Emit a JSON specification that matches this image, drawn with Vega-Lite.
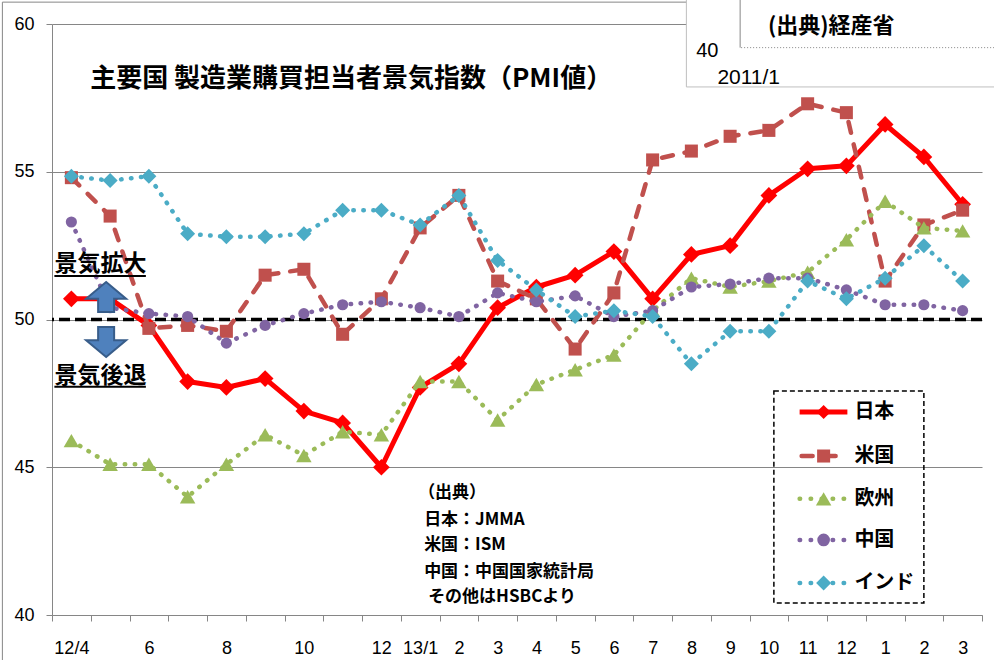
{
  "$schema": "https://vega.github.io/schema/vega-lite/v6.json",
  "width": 930,
  "height": 591,
  "autosize": {"type": "none"},
  "padding": {"left": 52, "top": 24, "right": 12, "bottom": 45},
  "background": "white",
  "config": {"view": {"stroke": null}},
  "datasets": {
    "pmi": [
      {"m":"12/4","c":"日本","v":50.7},{"m":"12/5","c":"日本","v":50.7},{"m":"12/6","c":"日本","v":49.8},{"m":"12/7","c":"日本","v":47.9},{"m":"12/8","c":"日本","v":47.7},{"m":"12/9","c":"日本","v":48.0},{"m":"12/10","c":"日本","v":46.9},{"m":"12/11","c":"日本","v":46.5},{"m":"12/12","c":"日本","v":45.0},{"m":"13/1","c":"日本","v":47.7},{"m":"13/2","c":"日本","v":48.5},{"m":"13/3","c":"日本","v":50.4},{"m":"13/4","c":"日本","v":51.1},{"m":"13/5","c":"日本","v":51.5},{"m":"13/6","c":"日本","v":52.3},{"m":"13/7","c":"日本","v":50.7},{"m":"13/8","c":"日本","v":52.2},{"m":"13/9","c":"日本","v":52.5},{"m":"13/10","c":"日本","v":54.2},{"m":"13/11","c":"日本","v":55.1},{"m":"13/12","c":"日本","v":55.2},{"m":"14/1","c":"日本","v":56.6},{"m":"14/2","c":"日本","v":55.5},{"m":"14/3","c":"日本","v":53.9},
      {"m":"12/4","c":"米国","v":54.8},{"m":"12/5","c":"米国","v":53.5},{"m":"12/6","c":"米国","v":49.7},{"m":"12/7","c":"米国","v":49.8},{"m":"12/8","c":"米国","v":49.6},{"m":"12/9","c":"米国","v":51.5},{"m":"12/10","c":"米国","v":51.7},{"m":"12/11","c":"米国","v":49.5},{"m":"12/12","c":"米国","v":50.7},{"m":"13/1","c":"米国","v":53.1},{"m":"13/2","c":"米国","v":54.2},{"m":"13/3","c":"米国","v":51.3},{"m":"13/4","c":"米国","v":50.7},{"m":"13/5","c":"米国","v":49.0},{"m":"13/6","c":"米国","v":50.9},{"m":"13/7","c":"米国","v":55.4},{"m":"13/8","c":"米国","v":55.7},{"m":"13/9","c":"米国","v":56.2},{"m":"13/10","c":"米国","v":56.4},{"m":"13/11","c":"米国","v":57.3},{"m":"13/12","c":"米国","v":57.0},{"m":"14/1","c":"米国","v":51.3},{"m":"14/2","c":"米国","v":53.2},{"m":"14/3","c":"米国","v":53.7},
      {"m":"12/4","c":"欧州","v":45.9},{"m":"12/5","c":"欧州","v":45.1},{"m":"12/6","c":"欧州","v":45.1},{"m":"12/7","c":"欧州","v":44.0},{"m":"12/8","c":"欧州","v":45.1},{"m":"12/9","c":"欧州","v":46.1},{"m":"12/10","c":"欧州","v":45.4},{"m":"12/11","c":"欧州","v":46.2},{"m":"12/12","c":"欧州","v":46.1},{"m":"13/1","c":"欧州","v":47.9},{"m":"13/2","c":"欧州","v":47.9},{"m":"13/3","c":"欧州","v":46.6},{"m":"13/4","c":"欧州","v":47.8},{"m":"13/5","c":"欧州","v":48.3},{"m":"13/6","c":"欧州","v":48.8},{"m":"13/7","c":"欧州","v":50.3},{"m":"13/8","c":"欧州","v":51.4},{"m":"13/9","c":"欧州","v":51.1},{"m":"13/10","c":"欧州","v":51.3},{"m":"13/11","c":"欧州","v":51.6},{"m":"13/12","c":"欧州","v":52.7},{"m":"14/1","c":"欧州","v":54.0},{"m":"14/2","c":"欧州","v":53.1},{"m":"14/3","c":"欧州","v":53.0},
      {"m":"12/4","c":"中国","v":53.3},{"m":"12/5","c":"中国","v":50.4},{"m":"12/6","c":"中国","v":50.2},{"m":"12/7","c":"中国","v":50.1},{"m":"12/8","c":"中国","v":49.2},{"m":"12/9","c":"中国","v":49.8},{"m":"12/10","c":"中国","v":50.2},{"m":"12/11","c":"中国","v":50.5},{"m":"12/12","c":"中国","v":50.6},{"m":"13/1","c":"中国","v":50.4},{"m":"13/2","c":"中国","v":50.1},{"m":"13/3","c":"中国","v":50.9},{"m":"13/4","c":"中国","v":50.6},{"m":"13/5","c":"中国","v":50.8},{"m":"13/6","c":"中国","v":50.1},{"m":"13/7","c":"中国","v":50.3},{"m":"13/8","c":"中国","v":51.1},{"m":"13/9","c":"中国","v":51.2},{"m":"13/10","c":"中国","v":51.4},{"m":"13/11","c":"中国","v":51.4},{"m":"13/12","c":"中国","v":51.0},{"m":"14/1","c":"中国","v":50.5},{"m":"14/2","c":"中国","v":50.5},{"m":"14/3","c":"中国","v":50.3},
      {"m":"12/4","c":"インド","v":54.85},{"m":"12/5","c":"インド","v":54.7},{"m":"12/6","c":"インド","v":54.85},{"m":"12/7","c":"インド","v":52.9},{"m":"12/8","c":"インド","v":52.8},{"m":"12/9","c":"インド","v":52.8},{"m":"12/10","c":"インド","v":52.9},{"m":"12/11","c":"インド","v":53.7},{"m":"12/12","c":"インド","v":53.7},{"m":"13/1","c":"インド","v":53.2},{"m":"13/2","c":"インド","v":54.2},{"m":"13/3","c":"インド","v":52.0},{"m":"13/4","c":"インド","v":51.0},{"m":"13/5","c":"インド","v":50.1},{"m":"13/6","c":"インド","v":50.3},{"m":"13/7","c":"インド","v":50.1},{"m":"13/8","c":"インド","v":48.5},{"m":"13/9","c":"インド","v":49.6},{"m":"13/10","c":"インド","v":49.6},{"m":"13/11","c":"インド","v":51.3},{"m":"13/12","c":"インド","v":50.7},{"m":"14/1","c":"インド","v":51.4},{"m":"14/2","c":"インド","v":52.5},{"m":"14/3","c":"インド","v":51.3}
    ]
  },
  "data": {"name": "pmi"},
  "layer": [
    {
      "data": {"values": [{"k": "zero"}]},
      "mark": {"type": "rule", "color": "#000000", "strokeWidth": 3.5, "strokeDash": [11, 5]},
      "encoding": {"y": {"datum": 50, "type": "quantitative"}}
    },
    {
      "transform": [{"filter": "datum.c == '日本'"}],
      "mark": {"type": "line", "color": "#FF0000", "strokeWidth": 5, "strokeJoin": "round", "point": {"shape": "diamond", "size": 280, "filled": true, "color": "#FF0000", "opacity": 1}},
      "encoding": {
        "x": {"field": "m", "type": "ordinal",
          "scale": {"type": "band", "paddingInner": 0, "paddingOuter": 0, "domain": ["12/4","12/5","12/6","12/7","12/8","12/9","12/10","12/11","12/12","13/1","13/2","13/3","13/4","13/5","13/6","13/7","13/8","13/9","13/10","13/11","13/12","14/1","14/2","14/3"]},
          "axis": {"title": null, "labelAngle": 0, "labelOverlap": false, "tickBand": "extent", "grid": false, "domainColor": "#868686", "tickColor": "#868686", "tickSize": 6, "labelPadding": 18, "labelFont": "Liberation Sans", "labelFontSize": 18, "labelColor": "#000000",
            "labelExpr": "!isString(datum.value) ? '' : ((datum.value == '12/5' || datum.value == '12/7' || datum.value == '12/9' || datum.value == '12/11') ? '' : ((datum.value == '12/4' || datum.value == '13/1') ? datum.value : slice(datum.value, indexof(datum.value, '/') + 1)))"}},
        "y": {"field": "v", "type": "quantitative",
          "scale": {"domain": [40, 60], "nice": false, "zero": false},
          "axis": {"title": null, "values": [40, 45, 50, 55, 60], "grid": true, "gridColor": "#868686", "gridWidth": 1, "domainColor": "#868686", "tickColor": "#868686", "tickSize": 6, "labelPadding": 12, "labelFont": "Liberation Sans", "labelFontSize": 18, "labelColor": "#000000"}}
      }
    },
    {
      "transform": [{"filter": "datum.c == '米国'"}],
      "mark": {"type": "line", "color": "#C0504D", "strokeWidth": 4.5, "strokeDash": [11, 12], "strokeCap": "round", "point": {"shape": "square", "size": 170, "filled": true, "color": "#C0504D", "opacity": 1}},
      "encoding": {"x": {"field": "m", "type": "ordinal"}, "y": {"field": "v", "type": "quantitative"}}
    },
    {
      "transform": [{"filter": "datum.c == '欧州'"}],
      "mark": {"type": "line", "color": "#9BBB59", "strokeWidth": 4.5, "strokeDash": [0.5, 9.5], "strokeCap": "round", "point": {"shape": "triangle-up", "size": 240, "filled": true, "color": "#9BBB59", "opacity": 1}},
      "encoding": {"x": {"field": "m", "type": "ordinal"}, "y": {"field": "v", "type": "quantitative"}}
    },
    {
      "transform": [{"filter": "datum.c == '中国'"}],
      "mark": {"type": "line", "color": "#8064A2", "strokeWidth": 4.5, "strokeDash": [0.5, 9.5], "strokeCap": "round", "point": {"shape": "circle", "size": 125, "filled": true, "color": "#8064A2", "opacity": 1}},
      "encoding": {"x": {"field": "m", "type": "ordinal"}, "y": {"field": "v", "type": "quantitative"}}
    },
    {
      "transform": [{"filter": "datum.c == 'インド'"}],
      "mark": {"type": "line", "color": "#4BACC6", "strokeWidth": 4.5, "strokeDash": [0.5, 9.5], "strokeCap": "round", "point": {"shape": "diamond", "size": 225, "filled": true, "color": "#4BACC6", "opacity": 1}},
      "encoding": {"x": {"field": "m", "type": "ordinal"}, "y": {"field": "v", "type": "quantitative"}}
    },
    {
      "data": {"values": [{"k": "title"}]},
      "mark": {"type": "text", "text": "主要国  製造業購買担当者景気指数（PMI値）", "font": "Noto Sans CJK JP", "fontWeight": "bold", "fontSize": 26, "align": "left", "baseline": "middle", "dx": -20, "color": "#000000"},
      "encoding": {"x": {"datum": "12/5", "type": "ordinal"}, "y": {"datum": 58.14, "type": "quantitative"}}
    },
    {
      "data": {"values": [{"k": "up"}]},
      "mark": {"type": "text", "text": "景気拡大", "font": "Noto Sans CJK JP", "fontWeight": "bold", "fontSize": 23, "align": "left", "baseline": "middle", "dx": -17, "color": "#000000"},
      "encoding": {"x": {"datum": "12/4", "type": "ordinal"}, "y": {"datum": 51.88, "type": "quantitative"}}
    },
    {
      "data": {"values": [{"k": "down"}]},
      "mark": {"type": "text", "text": "景気後退", "font": "Noto Sans CJK JP", "fontWeight": "bold", "fontSize": 23, "align": "left", "baseline": "middle", "dx": -17, "color": "#000000"},
      "encoding": {"x": {"datum": "12/4", "type": "ordinal"}, "y": {"datum": 48.10, "type": "quantitative"}}
    },
    {
      "data": {"values": [{"k": "ul1"}]},
      "mark": {"type": "rule", "color": "#000000", "strokeWidth": 2, "xOffset": -17, "x2Offset": -3},
      "encoding": {"x": {"datum": "12/4", "type": "ordinal"}, "x2": {"datum": "12/6"}, "y": {"datum": 51.47, "type": "quantitative"}}
    },
    {
      "data": {"values": [{"k": "ul2"}]},
      "mark": {"type": "rule", "color": "#000000", "strokeWidth": 2, "xOffset": -17, "x2Offset": -3},
      "encoding": {"x": {"datum": "12/4", "type": "ordinal"}, "x2": {"datum": "12/6"}, "y": {"datum": 47.72, "type": "quantitative"}}
    },
    {
      "data": {"values": [{"k": "arrowup"}]},
      "mark": {"type": "point", "shape": "M0,-0.75L1,0.08L0.4,0.08L0.4,0.75L-0.4,0.75L-0.4,0.08L-1,0.08Z", "size": 1600, "filled": true, "fill": "#4F81BD", "stroke": "#385D8A", "strokeWidth": 2, "opacity": 1, "xOffset": -4},
      "encoding": {"x": {"datum": "12/5", "type": "ordinal"}, "y": {"datum": 50.76, "type": "quantitative"}}
    },
    {
      "data": {"values": [{"k": "arrowdown"}]},
      "mark": {"type": "point", "shape": "M0,0.75L1,-0.08L0.4,-0.08L0.4,-0.75L-0.4,-0.75L-0.4,-0.08L-1,-0.08Z", "size": 1600, "filled": true, "fill": "#4F81BD", "stroke": "#385D8A", "strokeWidth": 2, "opacity": 1, "xOffset": -4},
      "encoding": {"x": {"datum": "12/5", "type": "ordinal"}, "y": {"datum": 49.24, "type": "quantitative"}}
    },
    {
      "data": {"values": [{"k": "src0"}]},
      "mark": {"type": "text", "text": "（出典）", "font": "Noto Sans CJK JP", "fontWeight": "bold", "fontSize": 17, "align": "left", "baseline": "middle", "dx": -2, "color": "#000000"},
      "encoding": {"x": {"datum": "13/1", "type": "ordinal"}, "y": {"datum": 44.13, "type": "quantitative"}}
    },
    {
      "data": {"values": [{"k": "src1"}]},
      "mark": {"type": "text", "text": "日本：JMMA", "font": "Noto Sans CJK JP", "fontWeight": "bold", "fontSize": 17, "align": "left", "baseline": "middle", "dx": 4, "color": "#000000"},
      "encoding": {"x": {"datum": "13/1", "type": "ordinal"}, "y": {"datum": 43.21, "type": "quantitative"}}
    },
    {
      "data": {"values": [{"k": "src2"}]},
      "mark": {"type": "text", "text": "米国：ISM", "font": "Noto Sans CJK JP", "fontWeight": "bold", "fontSize": 17, "align": "left", "baseline": "middle", "dx": 4, "color": "#000000"},
      "encoding": {"x": {"datum": "13/1", "type": "ordinal"}, "y": {"datum": 42.37, "type": "quantitative"}}
    },
    {
      "data": {"values": [{"k": "src3"}]},
      "mark": {"type": "text", "text": "中国：中国国家統計局", "font": "Noto Sans CJK JP", "fontWeight": "bold", "fontSize": 17, "align": "left", "baseline": "middle", "dx": 4, "color": "#000000"},
      "encoding": {"x": {"datum": "13/1", "type": "ordinal"}, "y": {"datum": 41.46, "type": "quantitative"}}
    },
    {
      "data": {"values": [{"k": "src4"}]},
      "mark": {"type": "text", "text": "その他はHSBCより", "font": "Noto Sans CJK JP", "fontWeight": "bold", "fontSize": 17, "align": "left", "baseline": "middle", "dx": 8, "color": "#000000"},
      "encoding": {"x": {"datum": "13/1", "type": "ordinal"}, "y": {"datum": 40.61, "type": "quantitative"}}
    },
    {
      "data": {"values": [{"k": "legbox"}]},
      "mark": {"type": "rect", "fillOpacity": 0, "stroke": "#000000", "strokeWidth": 1.5, "strokeDash": [5, 3], "xOffset": 5, "x2Offset": 0},
      "encoding": {"x": {"datum": "13/10", "type": "ordinal"}, "x2": {"datum": "14/2"}, "y": {"datum": 47.58, "type": "quantitative"}, "y2": {"datum": 40.41}}
    },
    {
      "data": {"values": [{"k": "lg1"}]},
      "encoding": {"y": {"datum": 46.87, "type": "quantitative"}},
      "layer": [
        {"mark": {"type": "rule", "color": "#FF0000", "strokeWidth": 5, "xOffset": -8, "x2Offset": 1}, "encoding": {"x": {"datum": "13/11", "type": "ordinal"}, "x2": {"datum": "13/12"}}},
        {"mark": {"type": "point", "shape": "diamond", "size": 200, "filled": true, "color": "#FF0000", "opacity": 1, "xOffset": 16}, "encoding": {"x": {"datum": "13/11", "type": "ordinal"}}},
        {"mark": {"type": "text", "text": "日本", "font": "Noto Sans CJK JP", "fontWeight": "bold", "fontSize": 20, "align": "left", "baseline": "middle", "dx": 8, "color": "#000000"}, "encoding": {"x": {"datum": "13/12", "type": "ordinal"}}}
      ]
    },
    {
      "data": {"values": [{"k": "lg2"}]},
      "encoding": {"y": {"datum": 45.38, "type": "quantitative"}},
      "layer": [
        {"mark": {"type": "rule", "color": "#C0504D", "strokeWidth": 4.5, "strokeDash": [11, 12], "strokeCap": "round", "xOffset": -6, "x2Offset": 1}, "encoding": {"x": {"datum": "13/11", "type": "ordinal"}, "x2": {"datum": "13/12"}}},
        {"mark": {"type": "point", "shape": "square", "size": 170, "filled": true, "color": "#C0504D", "opacity": 1, "xOffset": 16}, "encoding": {"x": {"datum": "13/11", "type": "ordinal"}}},
        {"mark": {"type": "text", "text": "米国", "font": "Noto Sans CJK JP", "fontWeight": "bold", "fontSize": 20, "align": "left", "baseline": "middle", "dx": 8, "color": "#000000"}, "encoding": {"x": {"datum": "13/12", "type": "ordinal"}}}
      ]
    },
    {
      "data": {"values": [{"k": "lg3"}]},
      "encoding": {"y": {"datum": 43.93, "type": "quantitative"}},
      "layer": [
        {"mark": {"type": "rule", "color": "#9BBB59", "strokeWidth": 4.5, "strokeDash": [0.5, 10.5], "strokeCap": "round", "xOffset": -8, "x2Offset": 1}, "encoding": {"x": {"datum": "13/11", "type": "ordinal"}, "x2": {"datum": "13/12"}}},
        {"mark": {"type": "point", "shape": "triangle-up", "size": 240, "filled": true, "color": "#9BBB59", "opacity": 1, "xOffset": 16}, "encoding": {"x": {"datum": "13/11", "type": "ordinal"}}},
        {"mark": {"type": "text", "text": "欧州", "font": "Noto Sans CJK JP", "fontWeight": "bold", "fontSize": 20, "align": "left", "baseline": "middle", "dx": 8, "color": "#000000"}, "encoding": {"x": {"datum": "13/12", "type": "ordinal"}}}
      ]
    },
    {
      "data": {"values": [{"k": "lg4"}]},
      "encoding": {"y": {"datum": 42.54, "type": "quantitative"}},
      "layer": [
        {"mark": {"type": "rule", "color": "#8064A2", "strokeWidth": 4.5, "strokeDash": [0.5, 10.5], "strokeCap": "round", "xOffset": -8, "x2Offset": 1}, "encoding": {"x": {"datum": "13/11", "type": "ordinal"}, "x2": {"datum": "13/12"}}},
        {"mark": {"type": "point", "shape": "circle", "size": 160, "filled": true, "color": "#8064A2", "opacity": 1, "xOffset": 16}, "encoding": {"x": {"datum": "13/11", "type": "ordinal"}}},
        {"mark": {"type": "text", "text": "中国", "font": "Noto Sans CJK JP", "fontWeight": "bold", "fontSize": 20, "align": "left", "baseline": "middle", "dx": 8, "color": "#000000"}, "encoding": {"x": {"datum": "13/12", "type": "ordinal"}}}
      ]
    },
    {
      "data": {"values": [{"k": "lg5"}]},
      "encoding": {"y": {"datum": 41.08, "type": "quantitative"}},
      "layer": [
        {"mark": {"type": "rule", "color": "#4BACC6", "strokeWidth": 4.5, "strokeDash": [0.5, 10.5], "strokeCap": "round", "xOffset": -8, "x2Offset": 1}, "encoding": {"x": {"datum": "13/11", "type": "ordinal"}, "x2": {"datum": "13/12"}}},
        {"mark": {"type": "point", "shape": "diamond", "size": 225, "filled": true, "color": "#4BACC6", "opacity": 1, "xOffset": 16}, "encoding": {"x": {"datum": "13/11", "type": "ordinal"}}},
        {"mark": {"type": "text", "text": "インド", "font": "Noto Sans CJK JP", "fontWeight": "bold", "fontSize": 20, "align": "left", "baseline": "middle", "dx": 8, "color": "#000000"}, "encoding": {"x": {"datum": "13/12", "type": "ordinal"}}}
      ]
    },
    {
      "data": {"values": [{"k": "frame"}]},
      "mark": {"type": "rect", "fillOpacity": 0, "stroke": "#868686", "strokeWidth": 1, "xOffset": -69, "x2Offset": 60},
      "encoding": {"x": {"datum": "12/4", "type": "ordinal"}, "x2": {"datum": "14/3"}, "y": {"datum": 60.74, "type": "quantitative"}, "y2": {"datum": 37.5}}
    },
    {
      "data": {"values": [{"k": "inset"}]},
      "mark": {"type": "rect", "fill": "#FFFFFF", "stroke": "#BFBFBF", "strokeWidth": 1, "xOffset": -5, "x2Offset": 60},
      "encoding": {"x": {"datum": "13/8", "type": "ordinal"}, "x2": {"datum": "14/3"}, "y": {"datum": 60.85, "type": "quantitative"}, "y2": {"datum": 57.87}}
    },
    {
      "data": {"values": [{"k": "insetv"}]},
      "mark": {"type": "rule", "color": "#868686", "strokeWidth": 1, "xOffset": 10},
      "encoding": {"x": {"datum": "13/9", "type": "ordinal"}, "y": {"datum": 60.85, "type": "quantitative"}, "y2": {"datum": 59.2}}
    },
    {
      "data": {"values": [{"k": "inseth"}]},
      "mark": {"type": "rule", "color": "#868686", "strokeWidth": 1, "strokeDash": [1, 2], "xOffset": 11, "x2Offset": 60},
      "encoding": {"x": {"datum": "13/9", "type": "ordinal"}, "x2": {"datum": "14/3"}, "y": {"datum": 59.2, "type": "quantitative"}}
    },
    {
      "data": {"values": [{"k": "insett"}]},
      "mark": {"type": "text", "text": "(出典)経産省", "font": "Noto Sans CJK JP", "fontWeight": "bold", "fontSize": 22, "align": "left", "baseline": "middle", "dx": -1, "color": "#000000"},
      "encoding": {"x": {"datum": "13/10", "type": "ordinal"}, "y": {"datum": 59.92, "type": "quantitative"}}
    },
    {
      "data": {"values": [{"k": "inset40"}]},
      "mark": {"type": "text", "text": "40", "font": "Liberation Sans", "fontSize": 20, "align": "right", "baseline": "middle", "dx": 27, "color": "#000000"},
      "encoding": {"x": {"datum": "13/8", "type": "ordinal"}, "y": {"datum": 59.08, "type": "quantitative"}}
    },
    {
      "data": {"values": [{"k": "insetdate"}]},
      "mark": {"type": "text", "text": "2011/1", "font": "Liberation Sans", "fontSize": 21, "align": "left", "baseline": "middle", "dx": 26, "color": "#000000"},
      "encoding": {"x": {"datum": "13/8", "type": "ordinal"}, "y": {"datum": 58.18, "type": "quantitative"}}
    }
  ]
}
